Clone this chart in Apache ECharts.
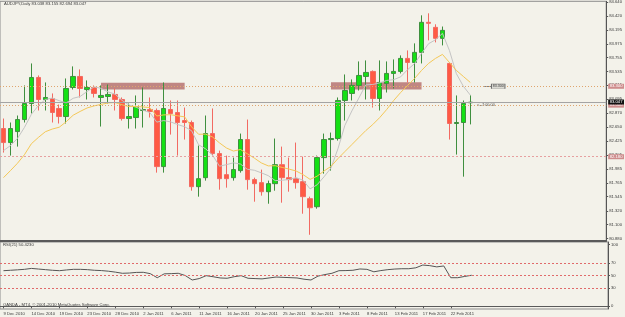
<!DOCTYPE html>
<html>
<head>
<meta charset="utf-8">
<title>AUDJPY Daily</title>
<script src="https://cdn.jsdelivr.net/npm/echarts@6/dist/echarts.min.js"></script>
<style>
  html, body { margin: 0; padding: 0; background: #f3f2ea; }
  #chart { width: 625px; height: 317px; }
</style>
</head>
<body>
<div id="chart"></div>
<script>
// bars (OANDA daily, Sunday bars included)
const dates = [
  '9 Dec 2010', '10 Dec 2010', '12 Dec 2010', '13 Dec 2010', '14 Dec 2010', '15 Dec 2010', '16 Dec 2010', '17 Dec 2010',
  '19 Dec 2010', '20 Dec 2010', '21 Dec 2010', '22 Dec 2010', '23 Dec 2010', '24 Dec 2010', '26 Dec 2010', '27 Dec 2010',
  '28 Dec 2010', '29 Dec 2010', '30 Dec 2010', '31 Dec 2010', '2 Jan 2011', '3 Jan 2011', '4 Jan 2011', '5 Jan 2011',
  '6 Jan 2011', '7 Jan 2011', '9 Jan 2011', '10 Jan 2011', '11 Jan 2011', '12 Jan 2011', '13 Jan 2011', '14 Jan 2011',
  '16 Jan 2011', '17 Jan 2011', '18 Jan 2011', '19 Jan 2011', '20 Jan 2011', '21 Jan 2011', '23 Jan 2011', '24 Jan 2011',
  '25 Jan 2011', '26 Jan 2011', '27 Jan 2011', '28 Jan 2011', '30 Jan 2011', '31 Jan 2011', '1 Feb 2011', '2 Feb 2011',
  '3 Feb 2011', '4 Feb 2011', '6 Feb 2011', '7 Feb 2011', '8 Feb 2011', '9 Feb 2011', '10 Feb 2011', '11 Feb 2011',
  '13 Feb 2011', '14 Feb 2011', '15 Feb 2011', '16 Feb 2011', '17 Feb 2011', '18 Feb 2011', '20 Feb 2011', '21 Feb 2011',
  '22 Feb 2011', '23 Feb 2011', '24 Feb 2011', '25 Feb 2011'
];

const open = [
  82.628, 82.405, 82.580, 82.771, 83.026, 83.440, 83.090, 83.106, 82.947, 82.819,
  83.281, 83.456, 83.249, 83.281, 83.122, 83.138, 83.170, 83.090, 82.787, 82.803,
  82.915, 82.931, 82.915, 82.023, 82.931, 82.883, 82.755, 82.724, 81.704, 81.847,
  82.548, 82.230, 81.895, 81.847, 81.959, 82.453, 81.816, 81.768, 81.624, 81.752,
  82.054, 81.847, 81.831, 81.784, 81.513, 81.385, 82.166, 82.453, 82.469, 83.074,
  83.186, 83.313, 83.456, 83.536, 83.106, 83.345, 83.504, 83.536, 83.743, 83.679,
  83.839, 84.317, 84.237, 84.062, 83.663, 82.708, 82.724, 83.038
];
const high = [
  82.787, 82.724, 82.835, 83.313, 83.663, 83.472, 83.361, 83.186, 83.010, 83.424,
  83.616, 83.568, 83.393, 83.313, 83.313, 83.329, 83.265, 83.122, 83.026, 83.154,
  83.281, 83.122, 82.947, 83.361, 83.074, 83.074, 82.962, 82.755, 82.357, 82.835,
  82.947, 82.277, 82.198, 82.166, 82.548, 82.771, 81.847, 81.975, 81.800, 82.469,
  82.341, 82.166, 82.405, 82.182, 81.545, 82.198, 82.548, 82.564, 83.122, 83.488,
  83.409, 83.695, 83.711, 83.552, 83.711, 83.695, 83.727, 83.791, 83.870, 83.982,
  84.428, 84.460, 84.285, 84.250, 83.679, 83.154, 83.074, 83.155
];
const low = [
  82.246, 82.198, 82.341, 82.724, 82.867, 82.915, 82.915, 82.724, 82.708, 82.708,
  83.249, 83.122, 83.090, 83.122, 82.660, 83.026, 82.915, 82.755, 82.628, 82.628,
  82.644, 82.803, 81.927, 81.927, 82.532, 82.198, 82.453, 81.640, 81.545, 81.800,
  82.198, 81.656, 81.688, 81.800, 81.927, 81.656, 81.465, 81.561, 81.433, 81.640,
  81.449, 81.624, 81.672, 81.274, 80.939, 81.354, 81.911, 81.959, 82.437, 82.755,
  83.074, 83.233, 83.090, 82.962, 82.915, 83.201, 83.265, 83.504, 83.361, 83.361,
  83.663, 84.030, 83.998, 83.950, 82.453, 82.214, 81.863, 82.694
];
const close = [
  82.405, 82.628, 82.771, 83.026, 83.440, 83.090, 83.122, 82.883, 82.819, 83.265,
  83.456, 83.265, 83.281, 83.186, 83.154, 83.170, 83.090, 82.787, 82.819, 82.978,
  82.931, 82.899, 82.023, 82.947, 82.867, 82.724, 82.724, 81.704, 81.831, 82.548,
  82.230, 81.831, 81.831, 81.975, 82.453, 81.816, 81.752, 81.624, 81.752, 82.054,
  81.847, 81.816, 81.768, 81.545, 81.369, 82.166, 82.453, 82.469, 83.074, 83.233,
  83.313, 83.472, 83.520, 83.106, 83.361, 83.504, 83.536, 83.743, 83.679, 83.839,
  84.317, 84.301, 84.062, 84.189, 82.708, 82.724, 83.026, 83.047
];

// moving averages as drawn (silver = fast, gold = slow)
const maFast = [
  82.277, 82.357, 82.469, 82.644, 82.854, 82.991, 83.090, 83.112, 83.071, 83.036,
  83.109, 83.138, 83.217, 83.291, 83.268, 83.211, 83.176, 83.077, 83.004, 82.969,
  82.921, 82.883, 82.730, 82.755, 82.733, 82.692, 82.657, 82.593, 82.370, 82.306,
  82.207, 82.029, 82.054, 82.083, 82.064, 81.981, 81.965, 81.924, 81.879, 81.800,
  81.806, 81.819, 81.847, 81.806, 81.669, 81.733, 81.860, 82.000, 82.306, 82.679,
  82.908, 83.112, 83.323, 83.329, 83.354, 83.393, 83.405, 83.450, 83.565, 83.660,
  83.823, 83.976, 84.039, 84.141, 83.870, 83.500, 83.300, 83.160
];
const maSlow = [
  81.847, 81.959, 82.075, 82.211, 82.386, 82.486, 82.577, 82.620, 82.649, 82.736,
  82.840, 82.900, 82.955, 82.988, 83.012, 83.034, 83.042, 83.006, 82.978, 82.978,
  82.972, 82.961, 82.827, 82.845, 82.848, 82.830, 82.814, 82.655, 82.537, 82.539,
  82.494, 82.400, 82.319, 82.270, 82.295, 82.227, 82.158, 82.082, 82.034, 82.037,
  82.010, 81.983, 81.953, 81.895, 81.820, 81.870, 81.953, 82.026, 82.150, 82.262,
  82.373, 82.485, 82.596, 82.692, 82.803, 82.931, 83.074, 83.201, 83.313, 83.424,
  83.552, 83.663, 83.743, 83.807, 83.679, 83.552, 83.456, 83.361
];

const rsi = [
  57.8, 58.5, 59.2, 60.0, 61.5, 60.5, 59.5, 58.5, 57.8, 59.0,
  60.0, 60.0, 59.5, 58.5, 58.0, 57.0, 55.5, 53.6, 54.0, 55.0,
  55.2, 53.0, 46.4, 52.7, 53.0, 53.6, 50.0, 42.7, 45.0, 49.7,
  48.0, 46.0, 45.5, 48.0, 49.7, 45.5, 45.0, 44.5, 46.0, 47.5,
  47.0, 46.5, 46.0, 44.0, 42.7, 49.0, 51.5, 53.6, 57.8, 58.0,
  58.5, 60.6, 60.0, 56.0, 58.0, 59.5, 60.5, 61.0, 61.0, 62.5,
  67.0, 66.0, 64.0, 65.5, 46.4, 46.4, 48.5, 50.423
];

const priceTicks = [84.640, 84.420, 84.195, 83.975, 83.755, 83.535, 83.315, 83.095, 82.870,
  82.650, 82.425, 82.205, 81.985, 81.765, 81.545, 81.320, 81.100, 80.880];
const rsiTicks = [100, 70, 50, 30, 0];
const rsiLevels = [70, 50, 30];

// drawn objects
const hLines = [83.300, 83.000, 82.180];
const bid = 83.047;
const zones = [
  ['26 Dec 2010', '9 Jan 2011', 83.355, 83.250],
  ['2 Feb 2011', '17 Feb 2011', 83.365, 83.250]
];
const priceTag = { at: 71.3, price: 83.300 };
const timerTag = { at: 68, price: 83.000, text: '<--7:00:00' };

const futureSlots = 19;
const cats = dates.concat(Array.from({ length: futureSlots }, (_, k) => ' '.repeat(k + 1)));

const font = 'Liberation Sans';
const small = { fontFamily: font, fontSize: 4.2, color: '#3a3a3a', fontWeight: 'normal' };
const last = dates.length - 1;
const fmt = v => v.toFixed(3);
const everyFourth = (i, v) => i % 4 === 0 && v.trim() !== '';

const chart = echarts.init(document.getElementById('chart'));

const levelLabel = text => Object.assign({}, small, {
  show: true, position: 'end', distance: 2, color: '#fff',
  backgroundColor: '#cf8d8d', padding: [0.5, 1.5], formatter: text
});

const option = {
  animation: false,
  backgroundColor: '#f3f2ea',
  title: [
    {
      text: 'AUDJPY,Daily ' + [open[last], high[last], low[last], close[last]].map(fmt).join(' '),
      left: 4, top: 2, padding: 0, textStyle: small
    },
    {
      text: 'RSI(21) ' + rsi[last].toFixed(4),
      left: 3, top: 243, padding: 0, textStyle: small
    },
    {
      text: 'OANDA - MT4, \u00a9 2001-2010 MetaQuotes Software Corp.',
      left: 3, top: 303, padding: 0, textStyle: small
    }
  ],
  grid: [
    { left: -2, right: 17, top: 1, height: 239.5, show: true, borderColor: '#8c8c8c', borderWidth: 1 },
    { left: -2, right: 17, top: 242, height: 67, show: true, borderColor: '#8c8c8c', borderWidth: 1 }
  ],
  xAxis: [
    {
      type: 'category', gridIndex: 0, data: cats,
      axisLine: { show: true, lineStyle: { color: '#5a5a5a', width: 2 } },
      axisTick: { show: false }, axisLabel: { show: false }, splitLine: { show: false }
    },
    {
      type: 'category', gridIndex: 1, data: cats,
      axisLine: { show: true, lineStyle: { color: '#5a5a5a', width: 1 } },
      axisTick: { show: true, interval: everyFourth, alignWithLabel: true, length: 2, lineStyle: { color: '#555' } },
      axisLabel: Object.assign({}, small, {
        interval: everyFourth, align: 'left', margin: 3,
        formatter: v => v.trim()
      }),
      splitLine: { show: false }
    }
  ],
  yAxis: [
    {
      type: 'value', gridIndex: 0, position: 'right', scale: true,
      min: 80.848, max: 84.651,
      axisLine: { show: true, lineStyle: { color: '#555', width: 1 } },
      axisTick: { show: true, customValues: priceTicks, length: 2, lineStyle: { color: '#555' } },
      axisLabel: Object.assign({}, small, { customValues: priceTicks, margin: 3, formatter: fmt }),
      splitLine: { show: false }
    },
    {
      type: 'value', gridIndex: 1, position: 'right',
      min: -4.4, max: 104.4,
      axisLine: { show: true, lineStyle: { color: '#555', width: 1 } },
      axisTick: { show: true, customValues: rsiTicks, length: 2, lineStyle: { color: '#555' } },
      axisLabel: Object.assign({}, small, { customValues: rsiTicks, margin: 3 }),
      splitLine: { show: false }
    }
  ],
  series: [
    {
      // drawn rectangles and labels
      name: 'objects', type: 'line', xAxisIndex: 0, yAxisIndex: 0, data: [], z: 1, silent: true,
      markArea: {
        silent: true,
        itemStyle: { color: 'rgba(172, 92, 92, 0.72)' },
        data: zones.map(z => [{ xAxis: z[0], yAxis: z[2] }, { xAxis: z[1], yAxis: z[3] }])
      },
      markPoint: {
        silent: true,
        data: [
          {
            coord: [priceTag.at, priceTag.price], symbol: 'rect', symbolSize: [13.5, 4.6],
            itemStyle: { color: '#d9d9d2', borderColor: '#6a6a6a', borderWidth: 0.6 },
            label: Object.assign({}, small, { show: true, position: 'inside', fontSize: 3.6, formatter: fmt(priceTag.price) })
          },
          {
            coord: [timerTag.at, timerTag.price], symbol: 'circle', symbolSize: 0.1,
            label: Object.assign({}, small, { show: true, position: 'right', distance: 0, fontSize: 3.8, color: '#555', formatter: timerTag.text })
          }
        ]
      },
      markLine: {
        silent: true, symbol: 'none',
        lineStyle: { color: '#666', width: 0.8, type: 'solid' },
        label: { show: false },
        data: [[{ coord: [priceTag.at - 2, priceTag.price] }, { coord: [priceTag.at - 0.95, priceTag.price] }]]
      }
    },
    {
      name: 'AUDJPY', type: 'candlestick', xAxisIndex: 0, yAxisIndex: 0, z: 3,
      barWidth: 5,
      data: dates.map((d, i) => [open[i], close[i], low[i], high[i]]),
      itemStyle: {
        color: '#14e014', borderColor: '#3f8f3f',
        color0: '#ff5a44', borderColor0: '#f26a62',
        borderWidth: 1
      },
      markLine: {
        silent: true, symbol: 'none',
        data: [
          { yAxis: hLines[0], lineStyle: { color: '#dfa56e', width: 1, type: [1, 2] }, label: levelLabel(fmt(hLines[0])) },
          { yAxis: hLines[1], lineStyle: { color: '#dfa56e', width: 1, type: [1, 2] }, label: levelLabel(fmt(hLines[1])) },
          { yAxis: hLines[2], lineStyle: { color: '#e6a0a0', width: 1, type: [2, 2] }, label: levelLabel(fmt(hLines[2])) },
          {
            yAxis: bid,
            lineStyle: { color: '#a4a4a4', width: 1, type: 'solid' },
            label: Object.assign(levelLabel(fmt(bid)), { backgroundColor: '#111' })
          }
        ]
      }
    },
    {
      name: 'MA fast', type: 'line', xAxisIndex: 0, yAxisIndex: 0, z: 4,
      data: maFast, symbol: 'none', silent: true,
      lineStyle: { color: '#c4c4c4', width: 1 }
    },
    {
      name: 'MA slow', type: 'line', xAxisIndex: 0, yAxisIndex: 0, z: 4,
      data: maSlow, symbol: 'none', silent: true,
      lineStyle: { color: '#f3c857', width: 1 }
    },
    {
      name: 'RSI(21)', type: 'line', xAxisIndex: 1, yAxisIndex: 1, z: 4,
      data: rsi, symbol: 'none', silent: true,
      lineStyle: { color: '#555', width: 1 },
      markLine: {
        silent: true, symbol: 'none', label: { show: false },
        lineStyle: { color: '#e06a6a', width: 1, type: [2, 2] },
        data: rsiLevels.map(v => ({ yAxis: v }))
      }
    }
  ]
};

chart.setOption(option);
window.addEventListener('resize', () => chart.resize());
</script>
</body>
</html>
